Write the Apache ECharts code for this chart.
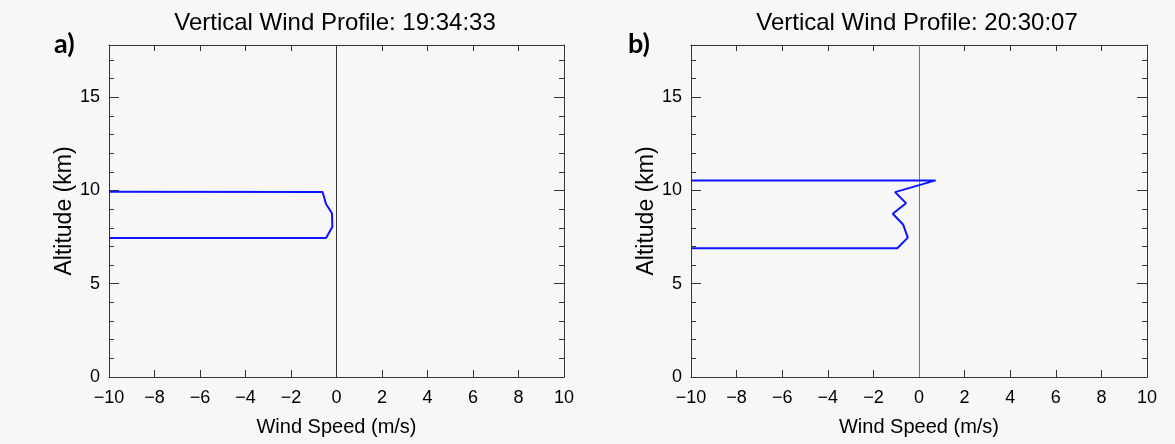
<!DOCTYPE html>
<html>
<head>
<meta charset="utf-8">
<script src="https://cdn.jsdelivr.net/npm/echarts@6/dist/echarts.min.js"></script>
<style>
  html, body { margin: 0; padding: 0; background: #f7f7f7; }
  #chart { width: 1175px; height: 444px; }
</style>
</head>
<body>
<div id="chart"></div>
<script>
// Wind speed (m/s) against altitude (km) along each profile trace
const windA = [-10, -0.61, -0.46, -0.20, -0.18, -0.46, -10];
const altA  = [9.93, 9.92, 9.28, 8.78, 8.06, 7.45, 7.45];

const windB = [-10, 0.73, -1.05, -0.57, -1.15, -0.69, -0.49, -0.95, -10];
const altB  = [10.54, 10.54, 9.91, 9.32, 8.75, 8.16, 7.47, 6.90, 6.90];

const titles = ['Vertical Wind Profile: 19:34:33', 'Vertical Wind Profile: 20:30:07'];
const panelTags = ['a)', 'b)'];
const xTicks = [-10, -8, -6, -4, -2, 0, 2, 4, 6, 8, 10];
const yTicks = [0, 5, 10, 15];

const FONT = '"Liberation Sans", Arial, sans-serif';
const AX = '#333';

const grids = [
  { left: 109, right: 611, top: 45, bottom: 67 },
  { left: 691, right: 28, top: 45, bottom: 67 }
];
const titleCenters = [330, 912];

const xAxes = [], yAxes = [], series = [], graphics = [];

grids.forEach((g, i) => {
  // bottom axis with labels
  xAxes.push({
    gridIndex: i, type: 'value', position: 'bottom',
    min: xTicks[0], max: xTicks[xTicks.length - 1], interval: 2,
    name: 'Wind Speed (m/s)', nameLocation: 'middle', nameGap: 40,
    nameTextStyle: { fontFamily: FONT, fontSize: 20, color: '#000' },
    axisLine: { show: true, onZero: false, lineStyle: { color: AX, width: 1 } },
    axisTick: { show: true, inside: true, length: 7, lineStyle: { color: AX } },
    axisLabel: { fontFamily: FONT, fontSize: 18, color: '#000', margin: 12,
                 formatter: v => (v < 0 ? '\u2212' + Math.abs(v) : String(v)) },
    splitLine: { show: false }
  });
  // top mirror axis
  xAxes.push({
    gridIndex: i, type: 'value', position: 'top',
    min: xTicks[0], max: xTicks[xTicks.length - 1], interval: 2,
    axisLine: { show: true, onZero: false, lineStyle: { color: AX, width: 1 } },
    axisTick: { show: true, inside: true, length: 6, lineStyle: { color: AX } },
    axisLabel: { show: false }, splitLine: { show: false }
  });
  // left axis with labels (major ticks every 5 km)
  yAxes.push({
    gridIndex: i, type: 'value', position: 'left',
    min: 0, max: 17.8, interval: 5,
    name: 'Altitude (km)', nameLocation: 'middle', nameGap: 30, nameRotate: 90,
    nameTextStyle: { fontFamily: FONT, fontSize: 23, color: '#000' },
    axisLine: { show: true, onZero: false, lineStyle: { color: AX, width: 1 } },
    axisTick: { show: true, inside: true, length: 10, lineStyle: { color: AX } },
    axisLabel: { fontFamily: FONT, fontSize: 18, color: '#000', margin: 9,
                 showMaxLabel: false,
                 formatter: v => (yTicks.indexOf(v) >= 0 ? String(v) : '') },
    splitLine: { show: false }
  });
  // left minor ticks every 1 km
  yAxes.push({
    gridIndex: i, type: 'value', position: 'left',
    min: 0, max: 17.8, interval: 1,
    axisLine: { show: false, onZero: false },
    axisTick: { show: true, inside: true, length: 5, lineStyle: { color: AX } },
    axisLabel: { show: false }, splitLine: { show: false }
  });
  // right mirror axis, major and minor
  yAxes.push({
    gridIndex: i, type: 'value', position: 'right',
    min: 0, max: 17.8, interval: 5,
    axisLine: { show: true, onZero: false, lineStyle: { color: AX, width: 1 } },
    axisTick: { show: true, inside: true, length: 10, lineStyle: { color: AX } },
    axisLabel: { show: false }, splitLine: { show: false }
  });
  yAxes.push({
    gridIndex: i, type: 'value', position: 'right',
    min: 0, max: 17.8, interval: 1,
    axisLine: { show: false, onZero: false },
    axisTick: { show: true, inside: true, length: 5, lineStyle: { color: AX } },
    axisLabel: { show: false }, splitLine: { show: false }
  });
});

function pairs(xs, ys) { return xs.map((x, k) => [x, ys[k]]); }

[[windA, altA], [windB, altB]].forEach((d, i) => {
  series.push({
    type: 'line',
    xAxisIndex: i * 2, yAxisIndex: i * 4,
    data: pairs(d[0], d[1]),
    showSymbol: false, symbol: 'none', animation: false,
    lineStyle: { color: '#0a14ff', width: 2 },
    z: 3,
    markLine: {
      silent: true, symbol: 'none', animation: false,
      label: { show: false },
      lineStyle: { color: i === 0 ? '#333' : '#777', width: 1, type: 'solid' },
      data: [{ xAxis: 0 }],
      z: 2
    }
  });
});

const titleCfg = titles.map((t, i) => ({
  text: t, left: titleCenters[i], top: 6, textAlign: 'center',
  textStyle: { fontFamily: FONT, fontSize: 24, fontWeight: 'normal', color: '#000' }
}));

const tagPos = [[54, 31], [628, 31]];
panelTags.forEach((t, i) => {
  graphics.push({
    type: 'text', left: tagPos[i][0], top: tagPos[i][1],
    style: { text: t, fontFamily: 'Lato, "Open Sans", sans-serif', fontSize: 27,
             fontWeight: 'bold', fill: '#000' }
  });
});

const chart = echarts.init(document.getElementById('chart'), null, { renderer: 'canvas' });
chart.setOption({
  backgroundColor: '#f7f7f7',
  animation: false,
  title: titleCfg,
  grid: grids,
  xAxis: xAxes,
  yAxis: yAxes,
  series: series,
  graphic: graphics
});
</script>
</body>
</html>
